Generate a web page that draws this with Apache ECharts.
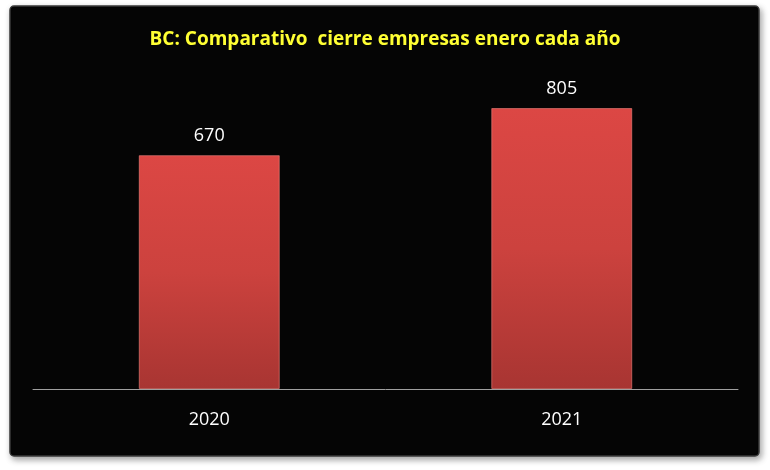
<!DOCTYPE html>
<html><head><meta charset="utf-8">
<script src="https://cdn.jsdelivr.net/npm/echarts@6/dist/echarts.min.js"></script>
<style>html,body{margin:0;padding:0;background:#fff}#c{width:770px;height:470px}</style>
</head><body><div id="c"></div>
<script>
const titleText = 'BC: Comparativo  cierre empresas enero cada año';
const categories = ['2020', '2021'];
const values = [670, 805];

const chart = echarts.init(document.getElementById('c'), null, {renderer: 'canvas'});
chart.setOption({
  backgroundColor: '#ffffff',
  animation: false,
  graphic: [
    {type: 'rect', z: -10, shape: {x: 10, y: 6, width: 749, height: 450, r: 4},
     style: {fill: '#050505', stroke: '#3a3a3a', lineWidth: 1.5, shadowBlur: 6, shadowOffsetX: 2, shadowOffsetY: 3, shadowColor: 'rgba(0,0,0,0.35)'}},
    {type: 'rect', z: -9, shape: {x: 12, y: 8, width: 745, height: 446, r: 3},
     style: {fill: '#050505'}}
  ],
  title: {
    text: titleText, left: 'center', top: 25,
    textStyle: {color: '#ffff33', fontFamily: 'Open Sans', fontWeight: 'bold', fontSize: 19}
  },
  grid: {left: 33, right: 32, top: 40, bottom: 81, containLabel: false},
  xAxis: {
    type: 'category', data: categories,
    axisLine: {show: true, lineStyle: {color: '#a0a0a0', width: 1}},
    axisTick: {show: false},
    axisLabel: {color: '#ffffff', fontFamily: 'Open Sans', fontSize: 18, margin: 22}
  },
  yAxis: {type: 'value', min: 0, max: 1000, show: false, splitLine: {show: false}},
  series: [{
    type: 'bar', data: values, barWidth: '40%',
    itemStyle: {
      color: new echarts.graphic.LinearGradient(0, 0, 0, 1, [
        {offset: 0, color: '#dc4744'}, {offset: 0.5, color: '#cc423e'}, {offset: 1, color: '#a83532'}
      ]),
      borderColor: 'rgba(255,140,135,0.55)', borderWidth: 1
    },
    label: {show: true, position: 'top', distance: 10, color: '#ffffff', fontFamily: 'Open Sans', fontSize: 18}
  }]
});
</script></body></html>
